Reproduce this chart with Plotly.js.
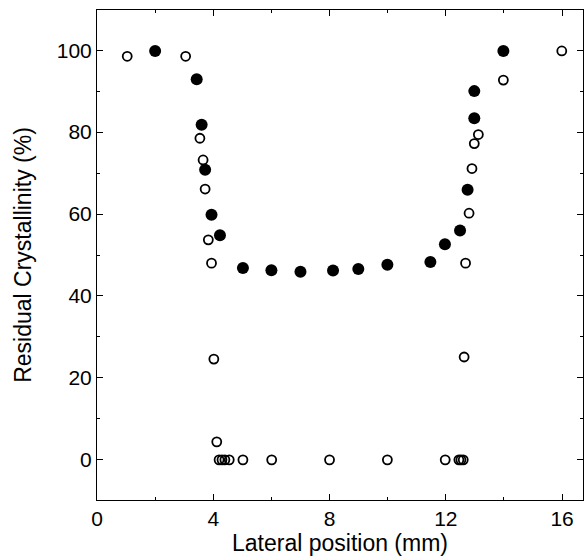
<!DOCTYPE html>
<html>
<head>
<meta charset="utf-8">
<script src="https://cdn.plot.ly/plotly-3.0.1.min.js"></script>
<style>html,body{margin:0;padding:0;background:#fff;}#chart{width:584px;height:560px;}</style>
</head>
<body>
<div id="chart"></div>
<script>
// Filled circles
const filledX = [2.0, 3.43, 3.6, 3.72, 3.94, 4.23, 5.02, 6.0, 7.0, 8.12, 8.99, 9.99, 11.47, 11.97, 12.49, 12.75, 12.98, 12.98, 13.98];
const filledY = [99.8, 92.9, 81.8, 70.8, 59.8, 54.8, 46.8, 46.3, 45.9, 46.2, 46.6, 47.6, 48.3, 52.6, 56.0, 65.9, 83.4, 90.0, 99.8];
// Open circles
const openX = [1.04, 3.05, 3.54, 3.65, 3.72, 3.83, 3.94, 4.02, 4.12, 4.2, 4.3, 4.4, 4.55, 5.02, 6.01, 8.0, 9.99, 11.98, 12.45, 12.52, 12.6, 12.63, 12.68, 12.8, 12.9, 12.98, 13.12, 13.98, 15.99];
const openY = [98.5, 98.5, 78.5, 73.2, 66.1, 53.7, 48.0, 24.6, 4.4, 0, 0, 0, 0, 0, 0, 0, 0, 0, 0, 0, 0, 25.1, 48.0, 60.2, 71.1, 77.2, 79.4, 92.7, 99.8];
const xTicks = [0, 4, 8, 12, 16];
const yTicks = [0, 20, 40, 60, 80, 100];

const tickFont = {family: 'Liberation Sans, Arial, sans-serif', size: 21, color: '#000'};
const titleFont = {family: 'Liberation Sans, Arial, sans-serif', size: 23, color: '#000'};

const traces = [
  {x: openX, y: openY, type: 'scatter', mode: 'markers',
   marker: {symbol: 'circle-open', size: 9, color: '#000', line: {width: 1.8, color: '#000'}}},
  {x: filledX, y: filledY, type: 'scatter', mode: 'markers',
   marker: {symbol: 'circle', size: 12, color: '#000'}}
];

const axisCommon = {
  showline: true, linecolor: '#000', linewidth: 1, mirror: 'ticks',
  ticks: 'inside', ticklen: 6, tickwidth: 1, tickcolor: '#000',
  showgrid: false, zeroline: false, tickfont: tickFont,
  minor: {ticks: 'inside', ticklen: 3, tickwidth: 1, tickcolor: '#000', showgrid: false}
};

const layout = {
  width: 584, height: 560,
  margin: {l: 97, r: 1, t: 10, b: 60},
  paper_bgcolor: '#fff', plot_bgcolor: '#fff',
  showlegend: false,
  font: tickFont,
  xaxis: Object.assign({}, axisCommon, {
    range: [0, 16.72], tickmode: 'array', tickvals: xTicks, ticktext: xTicks.map(String),
    minor: Object.assign({}, axisCommon.minor, {dtick: 2, tick0: 0}),
    title: {text: 'Lateral position (mm)', font: titleFont, standoff: 2}
  }),
  yaxis: Object.assign({}, axisCommon, {
    range: [-9.8, 109.8], tickmode: 'array', tickvals: yTicks, ticktext: yTicks.map(String),
    minor: Object.assign({}, axisCommon.minor, {dtick: 10, tick0: 0}),
    title: {text: 'Residual Crystallinity (%)', font: titleFont, standoff: 18}
  })
};

Plotly.newPlot('chart', traces, layout, {displayModeBar: false, staticPlot: true});
</script>
</body>
</html>
